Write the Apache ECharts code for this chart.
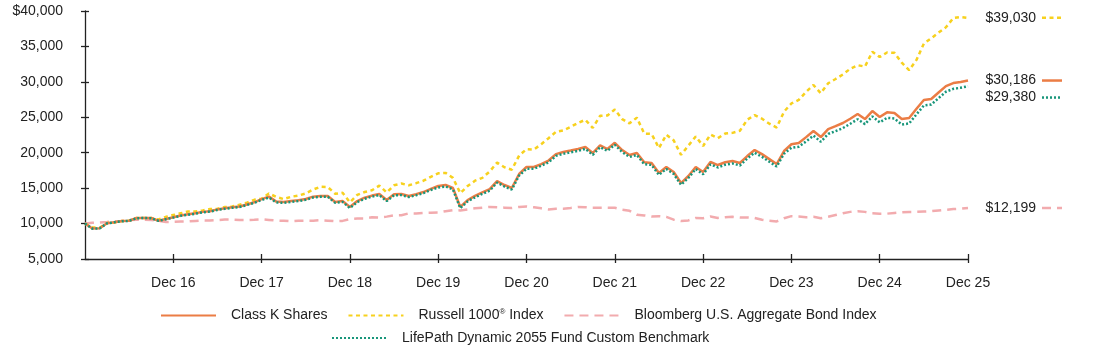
<!DOCTYPE html>
<html>
<head>
<meta charset="utf-8">
<script src="https://cdn.jsdelivr.net/npm/echarts@6/dist/echarts.min.js"></script>
<style>html,body{margin:0;padding:0;background:#fff}#c{width:1094px;height:349px}</style>
</head>
<body>
<div id="c"></div>
<script>
const seriesNames = ['Class K Shares', 'Russell 1000® Index', 'Bloomberg U.S. Aggregate Bond Index', 'LifePath Dynamic 2055 Fund Custom Benchmark'];
const tickLabels = ['Dec 16','Dec 17','Dec 18','Dec 19','Dec 20','Dec 21','Dec 22','Dec 23','Dec 24','Dec 25'];
const yTicks = [5000, 10000, 15000, 20000, 25000, 30000, 35000, 40000];
const endValues = [30186, 39030, 12199, 29380];

const classK = [10000,9300,9350,10050,10200,10350,10400,10780,10800,10780,10400,10650,
10900,11150,11300,11450,11650,11750,12000,12150,12300,12400,12700,13000,
13450,13800,13100,13050,13180,13300,13470,13800,13890,13890,13050,13180,
12340,13180,13650,13950,14170,13320,14150,14170,13890,14150,14450,14900,
15300,15440,15020,12340,13320,13900,14400,14850,16000,15440,15020,17000,
17980,17980,18400,18900,19800,20100,20300,20520,20800,19960,21050,20520,
21400,20380,19670,19960,18650,18550,17130,17980,17280,15720,16710,17980,
17280,18690,18260,18650,18830,18550,19530,20380,19800,19100,18400,20240,
21200,21370,22200,23060,22210,23340,23750,24190,24800,25460,24750,25880,
25040,25700,25600,24750,24900,26200,27450,27580,28500,29400,29830,29970,30186];

const russell = [10000,9450,9420,10080,10150,10350,10400,10780,10800,10800,10580,10950,
11200,11450,11700,11700,11850,12050,12080,12330,12400,12650,12960,13350,
13500,14250,13750,13450,13780,13950,14250,14800,15200,15150,14200,14350,
13000,14050,14450,14700,15350,14400,15400,15650,15400,15700,16050,16600,
17100,17150,16450,14300,15300,16050,16450,17350,18600,17950,17600,19600,
20500,20450,21200,22050,22950,23150,23650,24200,24650,23500,25200,25250,
26100,24750,24150,24950,22700,22650,20650,22550,21750,19700,21000,22300,
20950,22550,22050,22700,22800,23100,24650,25300,24800,24100,23550,25800,
26950,27450,28600,29550,28400,29800,30400,31050,31850,32350,32150,34250,
33500,34150,34100,32700,31650,33100,35400,36150,36950,37700,39000,39150,39030];

const bloomberg = [10000,10120,10150,10220,10300,10380,10500,10550,10560,10500,10380,10220,
10260,10300,10300,10380,10450,10420,10500,10560,10560,10500,10500,10550,
10620,10520,10420,10400,10330,10400,10400,10410,10480,10410,10330,10380,
10620,10700,10700,10880,10850,10980,11150,11170,11450,11430,11500,11530,
11560,11750,11900,11850,12000,12150,12250,12350,12300,12250,12200,12350,
12420,12300,12150,12000,12100,12100,12200,12330,12300,12250,12250,12250,
12230,11950,11800,11250,11150,11000,11050,10950,10550,10350,10450,10800,
10750,11000,10800,10900,10950,10850,10850,10800,10550,10400,10300,10750,
11050,11000,10900,10950,10750,10950,11200,11450,11650,11750,11650,11450,
11400,11400,11500,11600,11650,11650,11700,11750,11850,11950,12050,12100,12199];

const lifepath = [10000,9280,9330,10030,10180,10330,10380,10760,10780,10760,10380,10620,
10840,11090,11240,11390,11590,11690,11930,12080,12230,12330,12620,12910,
13330,13680,12980,12930,13060,13180,13350,13680,13770,13770,12930,13060,
12200,13030,13500,13800,14020,13170,14000,14020,13740,14000,14300,14740,
15100,15240,14820,12180,13130,13700,14200,14640,15790,15230,14810,16780,
17730,17730,18150,18650,19550,19850,20050,20270,20540,19700,20780,20260,
21120,20100,19400,19680,18380,18280,16870,17710,17010,15470,16450,17700,
16950,18350,17920,18300,18480,18200,19170,20000,19420,18730,18050,19850,
20700,20850,21600,22400,21550,22650,23050,23480,24080,24730,24030,25120,
24280,24930,24830,23980,24130,25420,26660,26790,27700,28600,29020,29170,29380];

// month categories Dec 2015 .. Dec 2025
const monthNames = ['Jan','Feb','Mar','Apr','May','Jun','Jul','Aug','Sep','Oct','Nov','Dec'];
const categories = [];
for (let i = 0; i < classK.length; i++) {
  const mi = (11 + i) % 12;
  const yr = 15 + Math.floor((11 + i) / 12);
  categories.push(monthNames[mi] + ' ' + yr);
}

const colors = ['#EB7D45', '#F7D11E', '#F2ABAE', '#18967A'];
const dashes = ['solid', [4, 3.5], [9, 6], [2, 2]];
const FONT = "'Liberation Sans', Arial, sans-serif";
const showIdx = (i) => i > 0 && i % 12 === 0;

const chart = echarts.init(document.getElementById('c'), null, {renderer: 'canvas'});

const seriesData = [classK, russell, bloomberg, lifepath];
const order = [2, 1, 0, 3];
const series = order.map(k => ({
  name: seriesNames[k],
  type: 'line',
  data: seriesData[k],
  symbol: 'none',
  smooth: false,
  z: 2 + order.indexOf(k),
  lineStyle: {color: colors[k], width: 2.5, type: dashes[k]},
  itemStyle: {color: colors[k]}
}));

const legendText = {fontSize: 14, color: '#222', fontFamily: FONT, padding: [0, 0, 0, 10],
  rich: {sup: {fontSize: 8, padding: [0, 0, 7, 0], color: '#222', fontFamily: FONT}}};

const option = {
  animation: false,
  backgroundColor: '#fff',
  textStyle: {fontFamily: FONT},
  grid: {left: 85, right: 126, top: 11, bottom: 90, containLabel: false},
  xAxis: [{
    type: 'category', data: categories, boundaryGap: false,
    axisLine: {lineStyle: {color: '#222', width: 1.3}},
    axisTick: {show: true, interval: (i) => showIdx(i), length: 4, lineStyle: {color: '#222', width: 1.3}},
    axisLabel: {interval: (i) => showIdx(i), margin: 17, fontSize: 14, color: '#222', fontFamily: FONT,
      formatter: (v, i) => tickLabels[i / 12 - 1] || ''},
    splitLine: {show: false}
  }, {
    type: 'category', data: categories, boundaryGap: false, position: 'bottom',
    axisLine: {show: false},
    axisTick: {show: true, inside: true, interval: (i) => showIdx(i), length: 5, lineStyle: {color: '#222', width: 1.3}},
    axisLabel: {show: false}, splitLine: {show: false}
  }],
  yAxis: [{
    type: 'value', min: yTicks[0], max: yTicks[yTicks.length - 1], interval: 5000,
    axisLine: {show: true, lineStyle: {color: '#222', width: 1.3}},
    axisTick: {show: true, length: 4, lineStyle: {color: '#222', width: 1.3}},
    axisLabel: {margin: 22, fontSize: 14, color: '#222', fontFamily: FONT,
      formatter: (v) => (v === 40000 ? '$' : '') + v.toLocaleString('en-US')},
    splitLine: {show: false}
  }, {
    type: 'value', min: yTicks[0], max: yTicks[yTicks.length - 1], interval: 5000, position: 'left',
    axisLine: {show: false},
    axisTick: {show: true, inside: true, length: 4, lineStyle: {color: '#222', width: 1.3}},
    axisLabel: {show: false}, splitLine: {show: false}
  }],
  legend: [{
    data: seriesNames.slice(0, 3), left: 155, top: 303,
    itemWidth: 55, itemHeight: 12, itemGap: 20,
    itemStyle: {opacity: 0},
    textStyle: legendText,
    formatter: (n) => n === 'Russell 1000® Index' ? 'Russell 1000{sup|®} Index' : n
  }, {
    data: [seriesNames[3]], left: 326, top: 326,
    itemWidth: 55, itemHeight: 12, itemGap: 20,
    itemStyle: {opacity: 0},
    textStyle: legendText
  }],
  series: series
};
chart.setOption(option);

// end labels placed with the chart's own scale
const lastIdx = classK.length - 1;
const items = endValues.map((v, k) => ({k, v, y: chart.convertToPixel({xAxisIndex: 0, yAxisIndex: 0}, [lastIdx, v])[1]}));
items.sort((a, b) => a.y - b.y);
for (let i = 1; i < items.length; i++) {
  if (items[i].y - items[i - 1].y < 17) items[i].y = items[i - 1].y + 17;
}
const xEnd = chart.convertToPixel({xAxisIndex: 0, yAxisIndex: 0}, [lastIdx, 0])[0];
const graphics = [];
items.forEach(it => {
  graphics.push({
    type: 'text',
    x: xEnd + 68, y: it.y,
    style: {text: '$' + it.v.toLocaleString('en-US'), fill: '#222', font: '14px ' + FONT, textAlign: 'right', textVerticalAlign: 'middle'}
  });
  const d = dashes[it.k];
  graphics.push({
    type: 'line',
    shape: {x1: xEnd + 74, y1: it.y, x2: xEnd + 94, y2: it.y},
    style: {stroke: colors[it.k], lineWidth: 2.5, lineDash: d === 'solid' ? null : d}
  });
});
chart.setOption({graphic: graphics});
</script>
</body>
</html>
